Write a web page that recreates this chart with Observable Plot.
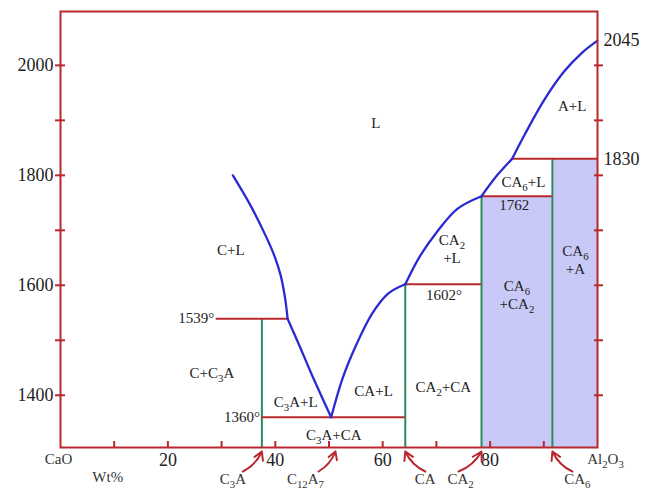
<!DOCTYPE html>
<html>
<head>
<meta charset="utf-8">
<script src="https://cdn.jsdelivr.net/npm/d3@7"></script>
<script src="https://cdn.jsdelivr.net/npm/@observablehq/plot@0.6"></script>
<style>
  html, body { margin: 0; padding: 0; background: #fff; }
  svg text { font-family: "Liberation Serif", "DejaVu Serif", serif; }
</style>
</head>
<body>
<div id="chart"></div>
<script>
// ---------- data ----------
// liquidus segments (wt% Al2O3, °C)
const liqC    = [[32.1,1800],[35.4,1745],[38.5,1684],[39.85,1653],[41.0,1618],[41.8,1578],[42.3,1539]];
const liqC3A  = [[42.3,1539],[44.5,1490],[46.6,1442],[50.4,1360]];
const liqCA   = [[50.4,1360],[52.5,1430],[55.0,1490],[58.0,1548],[61.0,1585],[64.2,1602]];
const liqCA2  = [[64.2,1602],[67.0,1654],[70.1,1697],[73.9,1739],[78.4,1762]];
const liqCA6  = [[78.4,1762],[81.3,1800],[84.1,1830]];
const liqA    = [[84.1,1830],[86.6,1877],[90.0,1936],[93.7,1988],[97.0,2022],[100,2045]];

// compounds
const compoundNames = ["C_3A", "C_12A_7", "CA", "CA_2", "CA_6"];
const compoundX     = [37.5, 51.2, 64.2, 78.4, 91.6];
const compoundTop   = [1539, null, 1602, 1762, 1830];

// invariant (horizontal) lines
const invT  = [1539, 1360, 1602, 1762, 1830];
const invX1 = [29.0, 37.5, 64.2, 78.4, 84.1];
const invX2 = [42.3, 64.2, 78.4, 91.6, 100];

// phase field labels
const fieldText = ["L", "A+L", "CA_6+L", "C+L", "CA_2\n+L", "CA_6\n+CA_2", "CA_6\n+A",
                   "C+C_3A", "C_3A+L", "CA+L", "CA_2+CA", "C_3A+CA"];
const fieldX = [58.7, 95.3, 86.2, 31.7, 72.9, 85.0, 95.9, 28.2, 43.8, 58.3, 71.3, 50.9];
const fieldY = [1897, 1928, 1789, 1666, 1667, 1584, 1647, 1441, 1390, 1410, 1416, 1330];

// temperature annotations
const tempText = ["1539°", "1360°", "1602°", "1762"];
const tempX    = [29.0, 37.5, 71.4, 84.5];
const tempY    = [1540, 1361, 1582, 1745];
const rightTemps = [2045, 1830];

// axes
const yTicks = [1400, 1500, 1600, 1700, 1800, 1900, 2000];
const yTickLabels = [1400, 1600, 1800, 2000];
const xTicks = [10, 20, 30, 40, 50, 60, 70, 80, 90];
const xTickLabels = [20, 40, 60, 80];
const endNames = ["CaO", "Al_2O_3"];
const endX = [0, 100];

// ---------- layout / style ----------
const W = 649, H = 490;
const mL = 60, mR = 52, mT = 11, mB = 43;
const xDom = [0, 100], yDom = [1305, 2098];
const RED = "#b8282d", BLUE = "#2a2ad2", GREEN = "#2c8a5e", SHADE = "#c9c9f8";
const pxX = (xDom[1]-xDom[0]) / (W - mL - mR);
const pxY = (yDom[1]-yDom[0]) / (H - mT - mB);
const labelDx = [-29, -30, 20, -21, 25];
const arrowDx = [-19, -17, 20, -23, 20];
const endDx = [-2, 8];

const seg = (pts, name) => pts.map(([x, y]) => ({x, y, seg: name}));
const liquidus = [
  ...seg(liqC, "c"), ...seg(liqC3A, "c3a"), ...seg(liqCA, "ca"),
  ...seg(liqCA2, "ca2"), ...seg(liqCA6, "ca6"), ...seg(liqA, "a")
];
const compounds = compoundNames.map((n, i) => ({
  n, x: compoundX[i], top: compoundTop[i],
  lx: compoundX[i] + labelDx[i] * pxX, ax: compoundX[i] + arrowDx[i] * pxX, left: arrowDx[i] < 0
}));
const verticals = compounds.filter(d => d.top != null);
const invariants = invT.map((t, i) => ({t, x1: invX1[i], x2: invX2[i]}));
const fields = fieldText.map((t, i) => ({t, x: fieldX[i], y: fieldY[i]}));
const temps = tempText.map((t, i) => ({t, x: tempX[i], y: tempY[i]}));
const ends = endNames.map((n, i) => ({n, x: endX[i] + endDx[i] * pxX}));
const shade = [
  {x1: compoundX[3], x2: compoundX[4], y1: yDom[0], y2: compoundTop[3]},
  {x1: compoundX[4], x2: 100, y1: yDom[0], y2: compoundTop[4]}
];
const arrowBaseY = yDom[0] - 24 * pxY, arrowTipY = yDom[0] - 4 * pxY;

const fs = 15;
const arrowOpts = {x1: "ax", y1: arrowBaseY, x2: "x", y2: arrowTipY, stroke: RED, strokeWidth: 2, headLength: 8};
const chart = Plot.plot({
  width: W, height: H,
  marginLeft: mL, marginRight: mR, marginTop: mT, marginBottom: mB,
  x: {domain: xDom, axis: null},
  y: {domain: yDom, axis: null},
  style: {background: "#fff", overflow: "visible", fontFamily: "Liberation Serif"},
  marks: [
    Plot.rect(shade, {x1: "x1", x2: "x2", y1: "y1", y2: "y2", fill: SHADE}),
    Plot.ruleX(verticals, {x: "x", y1: yDom[0], y2: "top", stroke: GREEN, strokeWidth: 2}),
    Plot.ruleY(invariants, {y: "t", x1: "x1", x2: "x2", stroke: RED, strokeWidth: 2}),
    Plot.line(liquidus, {x: "x", y: "y", z: "seg", curve: "catmull-rom", stroke: BLUE, strokeWidth: 2.3}),
    Plot.frame({stroke: RED, strokeWidth: 2}),
    // ticks
    Plot.ruleY(yTicks, {x1: -5 * pxX, x2: 5 * pxX, stroke: RED, strokeWidth: 2}),
    Plot.ruleY(yTicks, {x1: 100 - 3 * pxX, x2: 100 + 6 * pxX, stroke: RED, strokeWidth: 2}),
    Plot.ruleX(xTicks, {y1: yDom[0], y2: yDom[0] + 6 * pxY, stroke: RED, strokeWidth: 2}),
    // tick labels
    Plot.text(yTickLabels, {x: 0, y: d => d, text: d => String(d), dx: -7, textAnchor: "end", fontSize: 18, fill: "#222"}),
    Plot.text(rightTemps, {x: 100, y: d => d, text: d => String(d), dx: 6, textAnchor: "start", fontSize: 18, fill: "#222"}),
    Plot.text(xTickLabels, {x: d => d, y: yDom[0], text: d => String(d), dy: 13, fontSize: 18, fill: "#222"}),
    Plot.text(ends, {x: "x", y: yDom[0], text: "n", dy: 12, fontSize: fs, fill: "#333"}),
    Plot.text(["Wt%"], {x: 8.8, y: yDom[0], text: d => d, dy: 30, fontSize: fs, fill: "#333"}),
    // compounds
    Plot.text(compounds, {x: "lx", y: yDom[0], text: "n", dy: 32, fontSize: fs, fill: "#333"}),
    Plot.arrow(compounds.filter(d => d.left), {...arrowOpts, bend: -20}),
    Plot.arrow(compounds.filter(d => !d.left), {...arrowOpts, bend: 20}),
    // field labels
    Plot.text(fields, {x: "x", y: "y", text: "t", fontSize: fs, fill: "#222", lineHeight: 1.2}),
    Plot.text(temps.slice(0, 2), {x: "x", y: "y", text: "t", dx: -2, textAnchor: "end", fontSize: fs, fill: "#222"}),
    Plot.text(temps.slice(2), {x: "x", y: "y", text: "t", fontSize: fs, fill: "#222"})
  ]
});

// subscripts: "_n" -> lowered smaller digits
const NS = "http://www.w3.org/2000/svg";
function subify(el) {
  const s = el.textContent;
  if (!s.includes("_")) return;
  el.textContent = "";
  s.split(/_(\d+)/).forEach((p, i) => {
    if (!p) return;
    const t = document.createElementNS(NS, "tspan");
    t.textContent = p;
    if (i % 2 === 1) {
      t.setAttribute("font-size", "0.72em");
      t.setAttribute("baseline-shift", "-3.5");
    }
    el.appendChild(t);
  });
}
chart.querySelectorAll("text").forEach(txt => {
  const spans = txt.querySelectorAll("tspan");
  if (spans.length) spans.forEach(subify); else subify(txt);
});
document.getElementById("chart").appendChild(chart);
</script>
</body>
</html>
